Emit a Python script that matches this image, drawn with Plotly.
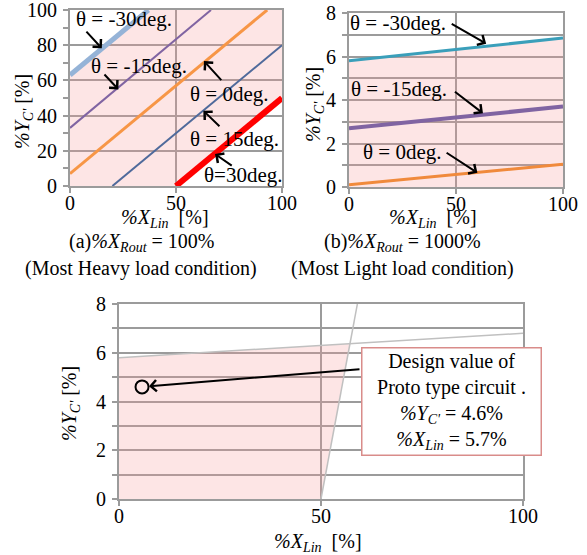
import numpy as np
import plotly.graph_objects as go

W, H = 587, 555
FONT = "Liberation Serif"

# ---------------- data ----------------
# (a) %X_Rout = 100%
a_labels = ["θ = -30deg.", "θ = -15deg.", "θ = 0deg.", "θ = 15deg.", "θ=30deg."]
a_x0 = [0, 0, 0, 20, 50]
a_y0 = [63, 33, 7, 0, 0]
a_x1 = [37, 66.5, 93, 100, 100]
a_y1 = [100, 100, 100, 80, 50]
a_colors = ["#95b3d7", "#8064a2", "#f79646", "#4f6a9b", "#ff0000"]
a_widths = [5, 2, 3, 2, 6]

# (b) %X_Rout = 1000%
b_labels = ["θ = -30deg.", "θ = -15deg.", "θ = 0deg."]
b_x = [0, 100]
b_y = [[5.8, 6.85], [2.7, 3.7], [0.1, 1.05]]
b_colors = ["#3a9fba", "#8064a2", "#f08a3c"]
b_widths = [3, 4, 3]

# (c) overlap
c_flat_x = [0, 100]
c_flat_y = [5.8, 6.8]
c_steep_x = [50, 59]
c_steep_y = [0, 8]
design_x = [5.7]
design_y = [4.6]

# ---------------- helpers ----------------
def px(x):
    return x / W

def py(y):
    return 1 - y / H

GRID = "#9b9b9b"
FILL = "rgba(248,150,150,0.25)"

fig = go.Figure()

# ---- (a) ----
poly_x = [0, a_x0[0], a_x1[0], 100, 100, a_x0[4]]
poly_y = [0, a_y0[0], a_y1[0], 100, a_y1[4], 0]
fig.add_trace(go.Scatter(x=poly_x, y=poly_y, fill="toself", fillcolor=FILL,
                         line=dict(width=0), mode="lines", hoverinfo="skip",
                         xaxis="x", yaxis="y", showlegend=False))
for i in range(len(a_labels)):
    fig.add_trace(go.Scatter(x=[a_x0[i], a_x1[i]], y=[a_y0[i], a_y1[i]], mode="lines",
                             line=dict(color=a_colors[i], width=a_widths[i]),
                             xaxis="x", yaxis="y", showlegend=False))

# ---- (b) ----
fig.add_trace(go.Scatter(x=[0, 0, 100, 100], y=[0, b_y[0][0], b_y[0][1], 0], fill="toself",
                         fillcolor=FILL, line=dict(width=0), mode="lines", hoverinfo="skip",
                         xaxis="x2", yaxis="y2", showlegend=False))
for i in range(len(b_labels)):
    fig.add_trace(go.Scatter(x=b_x, y=b_y[i], mode="lines",
                             line=dict(color=b_colors[i], width=b_widths[i]),
                             xaxis="x2", yaxis="y2", showlegend=False))

# ---- (c) ----
m1 = (c_flat_y[1] - c_flat_y[0]) / (c_flat_x[1] - c_flat_x[0])
m2 = (c_steep_y[1] - c_steep_y[0]) / (c_steep_x[1] - c_steep_x[0])
xi = (c_flat_y[0] - m1 * c_flat_x[0] - c_steep_y[0] + m2 * c_steep_x[0]) / (m2 - m1)
yi = c_flat_y[0] + m1 * (xi - c_flat_x[0])
fig.add_trace(go.Scatter(x=[0, 0, xi, c_steep_x[0]], y=[0, c_flat_y[0], yi, 0], fill="toself",
                         fillcolor=FILL, line=dict(width=0), mode="lines", hoverinfo="skip",
                         xaxis="x3", yaxis="y3", showlegend=False))
fig.add_trace(go.Scatter(x=c_flat_x, y=c_flat_y, mode="lines", line=dict(color="#c0c0c0", width=1.5),
                         xaxis="x3", yaxis="y3", showlegend=False))
fig.add_trace(go.Scatter(x=c_steep_x, y=c_steep_y, mode="lines", line=dict(color="#c0c0c0", width=1.5),
                         xaxis="x3", yaxis="y3", showlegend=False))
fig.add_trace(go.Scatter(x=design_x, y=design_y, mode="markers",
                         marker=dict(symbol="circle-open", size=13, color="black", line=dict(width=2)),
                         xaxis="x3", yaxis="y3", showlegend=False, cliponaxis=False))

tickfont = dict(family=FONT, size=20, color="black")

def xax(domain, anchor):
    return dict(domain=domain, anchor=anchor, range=[0, 100], tickvals=[0, 50, 100],
                showgrid=True, gridcolor=GRID, gridwidth=2, zeroline=False,
                showline=True, linecolor=GRID, linewidth=2, mirror=True,
                ticks="outside", ticklen=5, tickwidth=2, tickcolor=GRID,
                tickfont=tickfont, ticklabelstandoff=-7, ticklabeloverflow="allow",
                fixedrange=True, automargin=False)

def yax(domain, anchor, rng, dtick, minor_dtick, minor_grid):
    return dict(domain=domain, anchor=anchor, range=rng, dtick=dtick, tick0=0,
                showgrid=True, gridcolor=GRID, gridwidth=2, zeroline=False,
                showline=True, linecolor=GRID, linewidth=2, mirror=True,
                ticks="outside", ticklen=5, tickwidth=2, tickcolor=GRID,
                minor=dict(dtick=minor_dtick, tick0=0, ticks="outside", ticklen=5, tickwidth=2,
                           tickcolor=GRID, showgrid=minor_grid, gridcolor=GRID, gridwidth=2),
                tickfont=tickfont, ticklabelstandoff=2, ticklabeloverflow="allow",
                fixedrange=True, automargin=False)

fig.update_layout(
    width=W, height=H, margin=dict(l=0, r=0, t=0, b=0, pad=0), autosize=False,
    paper_bgcolor="white", plot_bgcolor="white",
    font=dict(family=FONT, size=18, color="black"),
    xaxis=xax([px(70), px(282)], "y"),
    yaxis=yax([py(186), py(10)], "x", [0, 100], 20, 10, False),
    xaxis2=xax([px(349), px(563)], "y2"),
    yaxis2=yax([py(187), py(13)], "x2", [0, 8], 2, 1, True),
    xaxis3=xax([px(119), px(523)], "y3"),
    yaxis3=yax([py(499), py(304)], "x3", [0, 8], 2, 1, True),
)

ann = []
lblfont = dict(family=FONT, size=21, color="black")
C = dict(xanchor="center", yanchor="middle")

# (a) labels and arrows
a_text_pos = [(25.5, 94.9), (32.5, 68.2), (75.2, 52.0), (77.4, 26.7), (81.6, 6.0)]
a_arrows = [((7.1, 88.6), (15.0, 78.2)), ((15.6, 64.2), (22.8, 54.9)),
            ((72.0, 59.3), (63.2, 71.0)), ((71.2, 33.1), (62.9, 42.8)),
            ((77.0, 11.0), (68.4, 18.2))]
for lab, (tx, ty), (tail, head) in zip(a_labels, a_text_pos, a_arrows):
    ann.append(dict(x=tx, y=ty, xref="x", yref="y", text=lab, showarrow=False, font=lblfont, **C))
    ann.append(dict(x=head[0], y=head[1], ax=tail[0], ay=tail[1], xref="x", yref="y",
                    axref="x", ayref="y", text="", showarrow=True, arrowhead=4,
                    arrowsize=1.1, arrowwidth=2, arrowcolor="black"))

# (b) labels and arrows
b_text_pos = [(23.1, 7.54), (23.4, 4.51), (24.7, 1.62)]
b_arrows = [((47.3, 7.54), (64.1, 6.59)), ((48.8, 4.43), (62.6, 3.39)), ((44.9, 1.62), (60.0, 0.65))]
for lab, (tx, ty), (tail, head) in zip(b_labels, b_text_pos, b_arrows):
    ann.append(dict(x=tx, y=ty, xref="x2", yref="y2", text=lab, showarrow=False, font=lblfont, **C))
    ann.append(dict(x=head[0], y=head[1], ax=tail[0], ay=tail[1], xref="x2", yref="y2",
                    axref="x2", ayref="y2", text="", showarrow=True, arrowhead=4,
                    arrowsize=1.1, arrowwidth=2, arrowcolor="black"))

# (c) arrow and box
ann.append(dict(x=design_x[0], y=design_y[0], ax=59.9, ay=5.33, xref="x3", yref="y3",
                axref="x3", ayref="y3", text="", showarrow=True, arrowhead=4, standoff=7,
                arrowsize=1.1, arrowwidth=2, arrowcolor="black"))
box_text = ("Design value of<br>Proto type circuit .<br>"
            "<i>%Y<sub>C'</sub></i> = 4.6%<br><i>%X<sub>Lin</sub></i> = 5.7%")
ann.append(dict(x=px(451), y=py(401.5), xref="paper", yref="paper", text=box_text,
                showarrow=False, font=dict(family=FONT, size=20, color="black"),
                bgcolor="white", bordercolor="#d98c8a", borderwidth=1.5, borderpad=1.5,
                width=175, height=103, align="center", valign="middle", **C))

# axis titles
ytitle = "<i>%Y<sub>C'</sub></i> [%]"
xtitle = "<i>%X<sub>Lin</sub></i>  [%]"
tfont = dict(family=FONT, size=20, color="black")
for (xx, yy) in [(24, 112), (314, 105), (70, 404)]:
    ann.append(dict(x=px(xx), y=py(yy), xref="paper", yref="paper", text=ytitle,
                    textangle=-90, showarrow=False, font=tfont, **C))
for (xx, yy) in [(165, 218), (433, 218), (318, 542)]:
    ann.append(dict(x=px(xx), y=py(yy), xref="paper", yref="paper", text=xtitle,
                    showarrow=False, font=tfont, **C))

# captions
cap = [("(a)<i>%X<sub>Rout</sub></i> = 100%", 142, 243),
       ("(Most Heavy load condition)", 141, 269),
       ("(b)<i>%X<sub>Rout</sub></i> = 1000%", 402, 243),
       ("(Most Light load condition)", 402, 269),
       ("(c)The Measured for LC Design by the overlapped analysis (a) and (b)", 300, 565)]
for t, xx, yy in cap:
    ann.append(dict(x=px(xx), y=py(yy), xref="paper", yref="paper", text=t,
                    showarrow=False, font=tfont, **C))

fig.update_layout(annotations=ann)
fig.write_html("out.html", config={"displayModeBar": False},
               post_script="document.body.style.margin='0';")
